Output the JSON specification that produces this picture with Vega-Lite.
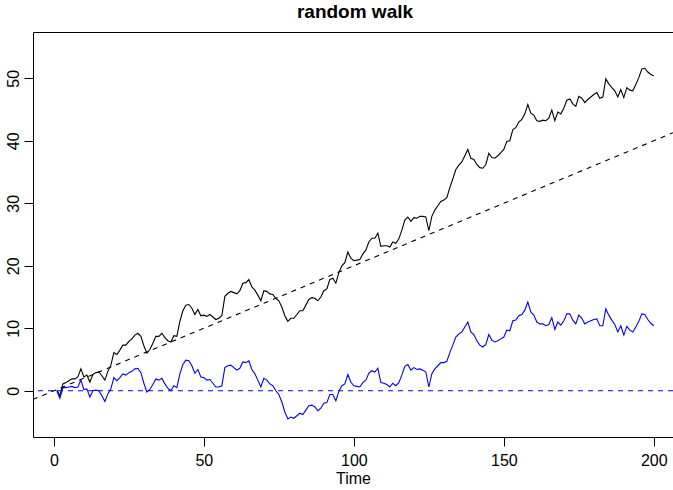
{
  "$schema": "https://vega.github.io/schema/vega-lite/v6.json",
  "autosize": "none",
  "width": 640,
  "height": 405,
  "padding": {"left": 33, "top": 32, "right": 0, "bottom": 53},
  "background": "white",
  "title": {"text": "random walk", "fontSize": 19, "fontWeight": "bold", "font": "Liberation Sans", "color": "black", "anchor": "middle", "frame": "group", "baseline": "bottom", "offset": -9, "dx": 2},
  "config": {
    "view": {"stroke": "black", "strokeWidth": 1},
    "axis": {"domain": false, "grid": false, "tickColor": "black", "tickSize": 9, "labelColor": "black", "labelFont": "Liberation Sans", "labelFontSize": 16, "titleFont": "Liberation Sans", "titleFontSize": 16, "titleFontWeight": "normal", "titleColor": "black"}
  },
  "datasets": {
    "walk": [
      {"t":1,"x":-0.1,"xd":0.1},{"t":2,"x":-1.2,"xd":-0.8},{"t":3,"x":0.5,"xd":1.1},{"t":4,"x":0.5,"xd":1.3},{"t":5,"x":0.6,"xd":1.6},
      {"t":6,"x":0.7,"xd":1.9},{"t":7,"x":0.5,"xd":1.9},{"t":8,"x":0.6,"xd":2.2},{"t":9,"x":1.7,"xd":3.5},{"t":10,"x":0.2,"xd":2.2},
      {"t":11,"x":0.3,"xd":2.5},{"t":12,"x":-1.0,"xd":1.4},{"t":13,"x":0.0,"xd":2.6},{"t":14,"x":0.1,"xd":2.9},{"t":15,"x":0.0,"xd":3.0},
      {"t":16,"x":-0.8,"xd":2.4},{"t":17,"x":-1.7,"xd":1.7},{"t":18,"x":-0.5,"xd":3.1},{"t":19,"x":0.3,"xd":4.1},{"t":20,"x":2.1,"xd":6.1},
      {"t":21,"x":1.6,"xd":5.8},{"t":22,"x":2.1,"xd":6.5},{"t":23,"x":2.7,"xd":7.3},{"t":24,"x":2.5,"xd":7.3},{"t":25,"x":2.9,"xd":7.9},
      {"t":26,"x":3.1,"xd":8.3},{"t":27,"x":3.5,"xd":8.9},{"t":28,"x":3.6,"xd":9.2},{"t":29,"x":2.9,"xd":8.7},{"t":30,"x":1.2,"xd":7.2},
      {"t":31,"x":-0.2,"xd":6.0},{"t":32,"x":0.2,"xd":6.6},{"t":33,"x":1.0,"xd":7.6},{"t":34,"x":1.9,"xd":8.7},{"t":35,"x":1.7,"xd":8.7},
      {"t":36,"x":2.0,"xd":9.2},{"t":37,"x":1.1,"xd":8.5},{"t":38,"x":0.4,"xd":8.0},{"t":39,"x":0.0,"xd":7.8},{"t":40,"x":0.8,"xd":8.8},
      {"t":41,"x":0.5,"xd":8.7},{"t":42,"x":2.7,"xd":11.1},{"t":43,"x":4.2,"xd":12.8},{"t":44,"x":4.9,"xd":13.7},{"t":45,"x":4.8,"xd":13.8},
      {"t":46,"x":4.0,"xd":13.2},{"t":47,"x":2.8,"xd":12.2},{"t":48,"x":3.4,"xd":13.0},{"t":49,"x":2.2,"xd":12.0},{"t":50,"x":2.1,"xd":12.1},
      {"t":51,"x":1.7,"xd":11.9},{"t":52,"x":1.8,"xd":12.2},{"t":53,"x":1.2,"xd":11.8},{"t":54,"x":0.6,"xd":11.4},{"t":55,"x":0.6,"xd":11.6},
      {"t":56,"x":0.8,"xd":12.0},{"t":57,"x":3.7,"xd":15.1},{"t":58,"x":4.0,"xd":15.6},{"t":59,"x":4.1,"xd":15.9},{"t":60,"x":3.7,"xd":15.7},
      {"t":61,"x":3.3,"xd":15.5},{"t":62,"x":3.6,"xd":16.0},{"t":63,"x":4.6,"xd":17.2},{"t":64,"x":4.5,"xd":17.3},{"t":65,"x":4.8,"xd":17.8},
      {"t":66,"x":3.4,"xd":16.6},{"t":67,"x":2.7,"xd":16.1},{"t":68,"x":1.7,"xd":15.3},{"t":69,"x":0.6,"xd":14.4},{"t":70,"x":2.0,"xd":16.0},
      {"t":71,"x":1.7,"xd":15.9},{"t":72,"x":1.1,"xd":15.5},{"t":73,"x":0.8,"xd":15.4},{"t":74,"x":0.0,"xd":14.8},{"t":75,"x":-0.6,"xd":14.4},
      {"t":76,"x":-1.8,"xd":13.4},{"t":77,"x":-3.4,"xd":12.0},{"t":78,"x":-4.5,"xd":11.1},{"t":79,"x":-4.2,"xd":11.6},{"t":80,"x":-4.4,"xd":11.6},
      {"t":81,"x":-4.0,"xd":12.2},{"t":82,"x":-3.6,"xd":12.8},{"t":83,"x":-3.8,"xd":12.8},{"t":84,"x":-3.1,"xd":13.7},{"t":85,"x":-2.4,"xd":14.6},
      {"t":86,"x":-2.3,"xd":14.9},{"t":87,"x":-2.6,"xd":14.8},{"t":88,"x":-3.2,"xd":14.4},{"t":89,"x":-2.8,"xd":15.0},{"t":90,"x":-2.0,"xd":16.0},
      {"t":91,"x":-1.9,"xd":16.3},{"t":92,"x":-0.6,"xd":17.8},{"t":93,"x":-0.6,"xd":18.0},{"t":94,"x":-1.6,"xd":17.2},{"t":95,"x":-0.1,"xd":18.9},
      {"t":96,"x":0.8,"xd":20.0},{"t":97,"x":1.1,"xd":20.5},{"t":98,"x":2.6,"xd":22.2},{"t":99,"x":1.4,"xd":21.2},{"t":100,"x":0.8,"xd":20.8},
      {"t":101,"x":0.7,"xd":20.9},{"t":102,"x":0.6,"xd":21.0},{"t":103,"x":1.3,"xd":21.9},{"t":104,"x":1.7,"xd":22.5},{"t":105,"x":2.8,"xd":23.8},
      {"t":106,"x":3.2,"xd":24.4},{"t":107,"x":3.0,"xd":24.4},{"t":108,"x":3.6,"xd":25.2},{"t":109,"x":1.3,"xd":23.1},{"t":110,"x":1.2,"xd":23.2},
      {"t":111,"x":1.0,"xd":23.2},{"t":112,"x":0.6,"xd":23.0},{"t":113,"x":1.2,"xd":23.8},{"t":114,"x":0.8,"xd":23.6},{"t":115,"x":1.3,"xd":24.3},
      {"t":116,"x":2.5,"xd":25.7},{"t":117,"x":3.9,"xd":27.3},{"t":118,"x":4.2,"xd":27.8},{"t":119,"x":3.3,"xd":27.1},{"t":120,"x":3.7,"xd":27.7},
      {"t":121,"x":3.4,"xd":27.6},{"t":122,"x":3.5,"xd":27.9},{"t":123,"x":3.3,"xd":27.9},{"t":124,"x":3.0,"xd":27.8},{"t":125,"x":0.6,"xd":25.6},
      {"t":126,"x":2.7,"xd":27.9},{"t":127,"x":3.5,"xd":28.9},{"t":128,"x":4.0,"xd":29.6},{"t":129,"x":4.5,"xd":30.3},{"t":130,"x":4.5,"xd":30.5},
      {"t":131,"x":4.7,"xd":30.9},{"t":132,"x":6.1,"xd":32.5},{"t":133,"x":7.3,"xd":33.9},{"t":134,"x":8.6,"xd":35.4},{"t":135,"x":9.1,"xd":36.1},
      {"t":136,"x":9.4,"xd":36.6},{"t":137,"x":10.2,"xd":37.6},{"t":138,"x":11.0,"xd":38.6},{"t":139,"x":9.4,"xd":37.2},{"t":140,"x":9.0,"xd":37.0},
      {"t":141,"x":8.0,"xd":36.2},{"t":142,"x":7.3,"xd":35.7},{"t":143,"x":7.0,"xd":35.6},{"t":144,"x":7.4,"xd":36.2},{"t":145,"x":9.0,"xd":38.0},
      {"t":146,"x":8.1,"xd":37.3},{"t":147,"x":7.8,"xd":37.2},{"t":148,"x":8.0,"xd":37.6},{"t":149,"x":8.3,"xd":38.1},{"t":150,"x":8.6,"xd":38.6},
      {"t":151,"x":9.7,"xd":39.9},{"t":152,"x":9.6,"xd":40.0},{"t":153,"x":11.2,"xd":41.8},{"t":154,"x":11.3,"xd":42.1},{"t":155,"x":12.0,"xd":43.0},
      {"t":156,"x":12.2,"xd":43.4},{"t":157,"x":12.9,"xd":44.3},{"t":158,"x":14.2,"xd":45.8},{"t":159,"x":12.6,"xd":44.4},{"t":160,"x":12.1,"xd":44.1},
      {"t":161,"x":11.0,"xd":43.2},{"t":162,"x":10.7,"xd":43.1},{"t":163,"x":10.7,"xd":43.3},{"t":164,"x":10.4,"xd":43.2},{"t":165,"x":10.6,"xd":43.6},
      {"t":166,"x":11.7,"xd":44.9},{"t":167,"x":9.8,"xd":43.2},{"t":168,"x":11.0,"xd":44.6},{"t":169,"x":10.5,"xd":44.3},{"t":170,"x":11.2,"xd":45.2},
      {"t":171,"x":12.3,"xd":46.5},{"t":172,"x":12.3,"xd":46.7},{"t":173,"x":11.3,"xd":45.9},{"t":174,"x":10.7,"xd":45.5},{"t":175,"x":12.1,"xd":47.1},
      {"t":176,"x":11.6,"xd":46.8},{"t":177,"x":10.7,"xd":46.1},{"t":178,"x":11.0,"xd":46.6},{"t":179,"x":11.2,"xd":47.0},{"t":180,"x":11.4,"xd":47.4},
      {"t":181,"x":11.5,"xd":47.7},{"t":182,"x":10.4,"xd":46.8},{"t":183,"x":10.4,"xd":47.0},{"t":184,"x":13.1,"xd":49.9},{"t":185,"x":12.1,"xd":49.1},
      {"t":186,"x":11.3,"xd":48.5},{"t":187,"x":10.6,"xd":48.0},{"t":188,"x":9.4,"xd":47.0},{"t":189,"x":10.4,"xd":48.2},{"t":190,"x":8.9,"xd":46.9},
      {"t":191,"x":10.3,"xd":48.5},{"t":192,"x":9.7,"xd":48.1},{"t":193,"x":9.4,"xd":48.0},{"t":194,"x":10.2,"xd":49.0},{"t":195,"x":11.1,"xd":50.1},
      {"t":196,"x":12.3,"xd":51.5},{"t":197,"x":12.2,"xd":51.6},{"t":198,"x":11.4,"xd":51.0},{"t":199,"x":10.8,"xd":50.6},{"t":200,"x":10.4,"xd":50.4}
    ],
    "trend": [{"t": -7, "y": -1.4}, {"t": 207, "y": 41.4}]
  },
  "layer": [
    {
      "data": {"name": "walk"},
      "mark": {"type": "line", "color": "black", "strokeWidth": 1.1, "clip": true},
      "encoding": {
        "x": {"field": "t", "type": "quantitative", "title": "Time",
              "scale": {"domain": [-6.96, 206.4], "nice": false, "zero": false},
              "axis": {"values": [0, 50, 100, 150, 200], "labelPadding": 6, "titlePadding": 2, "labelFlush": false}},
        "y": {"field": "xd", "type": "quantitative", "title": null,
              "scale": {"domain": [-7.4, 57.4], "nice": false, "zero": false},
              "axis": {"values": [0, 10, 20, 30, 40, 50], "labelAngle": 270, "labelAlign": "center", "labelBaseline": "bottom", "labelPadding": 3, "labelFlush": false}}
      }
    },
    {
      "data": {"name": "walk"},
      "mark": {"type": "line", "color": "#0000FF", "strokeWidth": 1.1, "clip": true},
      "encoding": {
        "x": {"field": "t", "type": "quantitative"},
        "y": {"field": "x", "type": "quantitative"}
      }
    },
    {
      "data": {"values": [{"h": 0}]},
      "mark": {"type": "rule", "color": "#0000FF", "strokeWidth": 1.1, "strokeDash": [5, 5], "clip": true},
      "encoding": {"y": {"field": "h", "type": "quantitative"}}
    },
    {
      "data": {"name": "trend"},
      "mark": {"type": "line", "color": "black", "strokeWidth": 1.1, "strokeDash": [5, 5], "clip": true},
      "encoding": {
        "x": {"field": "t", "type": "quantitative"},
        "y": {"field": "y", "type": "quantitative"}
      }
    }
  ]
}
